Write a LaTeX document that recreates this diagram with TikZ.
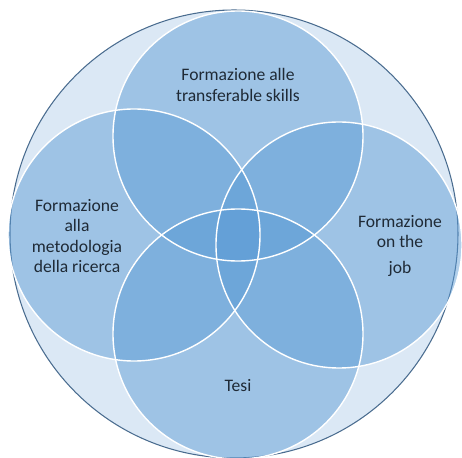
\documentclass[tikz,border=0pt]{standalone}
\usepackage{fontspec}
\setmainfont{Carlito}
\definecolor{ringfill}{HTML}{DBE8F5}
\definecolor{ringline}{HTML}{4A6C8F}
\definecolor{petal}{HTML}{5B9BD5}
\definecolor{labeltext}{HTML}{1F2A36}
\begin{document}
\begin{tikzpicture}[scale=0.03, yscale=-1,
    petalfill/.style={fill=petal, fill opacity=0.47},
    petaledge/.style={draw=white, line width=1.2pt},
    lbl/.style={align=center, text=labeltext, font=\fontsize{15}{17.5}\selectfont}]
          \useasboundingbox (0,0) rectangle (462,458);
          \fill[ringfill] (234,234) circle (224);
          \draw[ringline, line width=0.9pt] (234,234) circle (224);
          % the four sets
          \fill[petalfill] (238,136) circle (125);
          \fill[petalfill] (134,235) circle (126);
          \fill[petalfill] (339,245) circle (123);
          \fill[petalfill] (238,334) circle (125);
          \draw[petaledge] (238,136) circle (125);
          \draw[petaledge] (134,235) circle (126);
          \draw[petaledge] (339,245) circle (123);
          \draw[petaledge] (238,334) circle (125);
          \node[lbl] (top) at (238,85){Formazione alle\\transferable skills};
          \node[lbl] (left) at (77,236){Formazione\\alla\\metodologia\\della ricerca};
          \node[lbl] (right) at (400,246){Formazione\\on the\\[5pt]job};
          \node[lbl] (bottom) at (238,386){Tesi};
        \end{tikzpicture}
\end{document}
